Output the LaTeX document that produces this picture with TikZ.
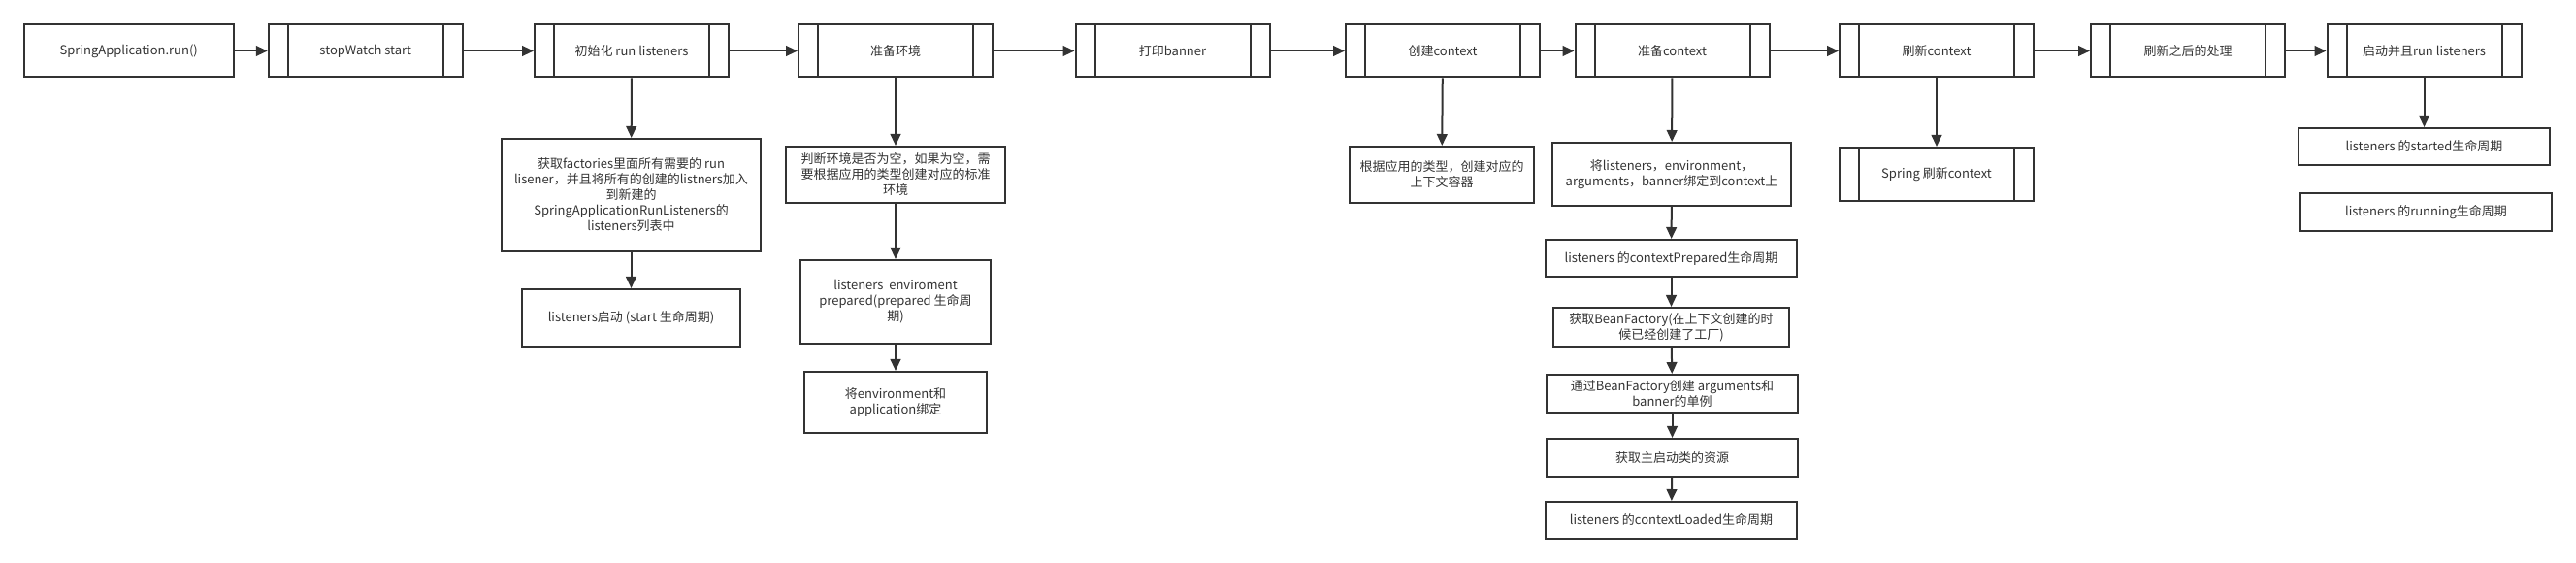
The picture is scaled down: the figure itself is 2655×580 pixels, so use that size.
\documentclass[tikz,border=0pt]{standalone}
\usepackage{fontspec}
\setmainfont{Noto Sans CJK SC}
\usetikzlibrary{arrows.meta}

\definecolor{ink}{HTML}{333333}

\tikzset{
  box/.style={draw=ink, line width=1.5pt, text=ink, align=center, inner sep=2pt,
    font=\fontsize{9.75}{12}\selectfont},
  dims/.style 2 args={minimum width=#1*0.75pt, minimum height=#2*0.75pt},
  procbox/.style={box, dims={200}{54}, path picture={
    \draw[ink, line width=1.5pt]
      ([xshift=15pt]path picture bounding box.north west) -- ([xshift=15pt]path picture bounding box.south west)
      ([xshift=-15pt]path picture bounding box.north east) -- ([xshift=-15pt]path picture bounding box.south east);}},
  flow/.style={draw=ink, line width=1.5pt, -{Triangle[length=9pt,width=8pt]}},
}

\begin{document}
\begin{tikzpicture}[x=0.75pt, y=-0.75pt]
\useasboundingbox (0,0) rectangle (2655,580);

% main line
\node[box, dims={216}{54}] (run) at (132.75,52.5) {SpringApplication.run()};
\node[procbox] (watch)   at (376.75,52.5) {stopWatch start};
\node[procbox] (init)    at (651,52.5)    {初始化 run listeners};
\node[procbox] (env)     at (923,52.5)    {准备环境};
\node[procbox] (banner)  at (1208.5,52.5) {打印banner};
\node[procbox] (create)  at (1487,52.5)   {创建context};
\node[procbox] (prepare) at (1723.5,52.5) {准备context};
\node[procbox] (refresh) at (1996,52.5)   {刷新context};
\node[procbox] (after)   at (2255,52.5)   {刷新之后的处理};
\node[procbox] (start)   at (2498.5,52.5) {启动并且run listeners};

\foreach \a/\b in {run/watch, watch/init, init/env, env/banner, banner/create,
                   create/prepare, prepare/refresh, refresh/after, after/start}
  \draw[flow] (\a) -- (\b);

% run listeners
\node[box, dims={267}{116}] (factories) at (650.5,201)
  {获取factories里面所有需要的 run\\lisener，并且将所有的创建的listners加入\\到新建的\\SpringApplicationRunListeners的\\listeners列表中};
\node[box, dims={225}{59}] (lstart) at (650.5,327.5) {listeners启动 (start 生命周期)};

% environment
\node[box, dims={226}{58}] (envnull) at (923,180)
  {判断环境是否为空，如果为空，需\\要根据应用的类型创建对应的标准\\环境};
\node[box, dims={196}{86}] (envprep) at (923,311)
  {listeners~ enviroment\\prepared(prepared 生命周\\期)};
\node[box, dims={188}{63}] (envbind) at (923,414.5)
  {将environment和\\application绑定};

% create context
\node[box, dims={190}{58}] (ctxtype) at (1486,180)
  {根据应用的类型，创建对应的\\上下文容器};

% prepare context
\node[box, dims={246}{65}] (ctxbind) at (1723,179.5)
  {将listeners，environment，\\arguments，banner绑定到context上};
\node[box, dims={259}{38}] (ctxprep) at (1722.5,266) {listeners 的contextPrepared生命周期};
\node[box, dims={243}{40}] (factory) at (1722.5,337)
  {获取BeanFactory(在上下文创建的时\\候已经创建了工厂)};
\node[box, dims={259}{39}] (single)  at (1723.5,405.5)
  {通过BeanFactory创建 arguments和\\banner的单例};
\node[box, dims={259}{39}] (source)  at (1723.5,471.5) {获取主启动类的资源};
\node[box, dims={259}{38}] (ctxload) at (1722.5,536) {listeners 的contextLoaded生命周期};

% refresh / start
\node[procbox, dims={200}{55}] (spring) at (1996,179.5) {Spring 刷新context};
\node[box, dims={259}{38}] (lstarted) at (2498.5,151) {listeners 的started生命周期};
\node[box, dims={259}{39}] (lrunning) at (2500.5,218.5) {listeners 的running生命周期};

\draw[flow] (init) -- (factories);
\draw[flow] (factories) -- (lstart);
\draw[flow] (env) -- (envnull);
\draw[flow] (envnull) -- (envprep);
\draw[flow] (envprep) -- (envbind);
\draw[flow] (create) -- (ctxtype);
\foreach \a/\b in {prepare/ctxbind, ctxbind/ctxprep, ctxprep/factory,
                   factory/single, single/source, source/ctxload}
  \draw[flow] (\a) -- (\b);
\draw[flow] (refresh) -- (spring);
\draw[flow] (start) -- (lstarted);
\end{tikzpicture}
\end{document}
